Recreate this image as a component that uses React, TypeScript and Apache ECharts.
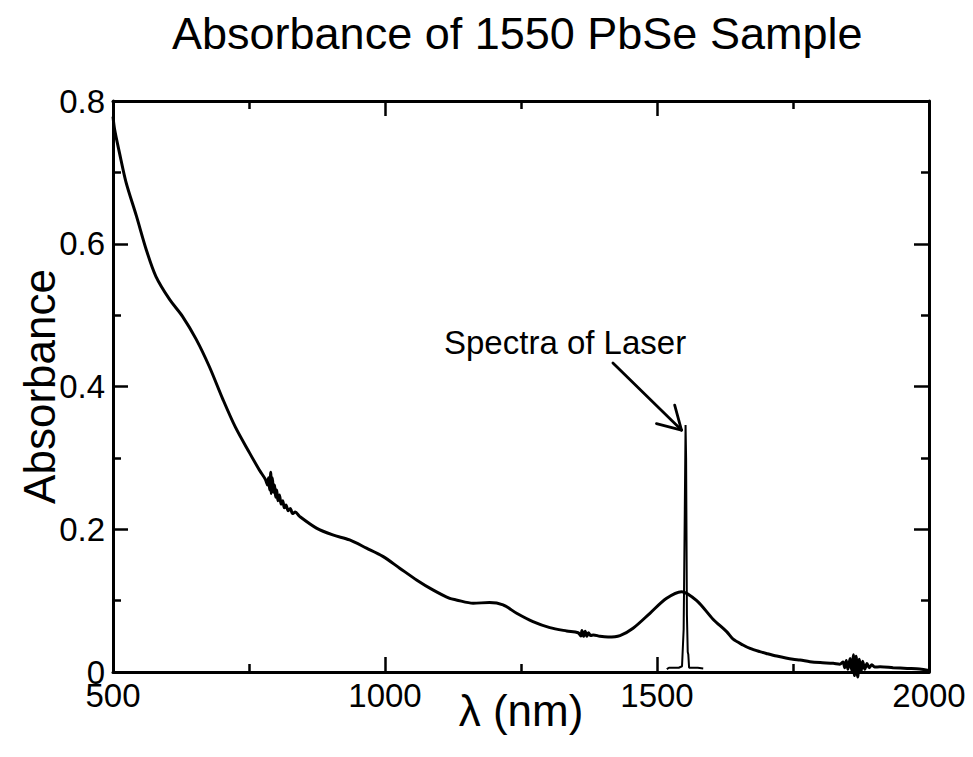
import React, { useEffect, useRef } from "react";
import * as echarts from "echarts";

const chartTitle = "Absorbance of 1550 PbSe Sample";
const xAxisName = "λ (nm)";
const yAxisName = "Absorbance";
const annotationText = "Spectra of Laser";

const absWavelength = [
  500, 503, 512, 524, 543, 561, 579, 604, 628, 653, 677, 702, 725, 751, 769,
  780, 784, 786, 788, 790, 791, 793, 795, 797, 799, 801, 803, 806, 809, 812,
  815, 818, 822, 826, 830, 835, 843, 874, 904, 935, 966, 996, 1027, 1058,
  1088, 1119, 1131, 1162, 1192, 1217, 1242, 1272, 1303, 1334, 1355, 1360,
  1362, 1365, 1368, 1371, 1374, 1378, 1383, 1395, 1410, 1432, 1456, 1487,
  1517, 1545, 1573, 1603, 1628, 1640, 1658, 1671, 1689, 1701, 1720, 1750,
  1763, 1781, 1800, 1824, 1836, 1842, 1845, 1848, 1851, 1855, 1858, 1861,
  1863, 1866, 1869, 1872, 1875, 1878, 1882, 1886, 1890, 1895, 1900, 1910,
  1934, 1960, 1983, 2000,
];
const absValue = [
  0.778, 0.76, 0.727, 0.686, 0.639, 0.592, 0.554, 0.522, 0.498, 0.466, 0.428,
  0.382, 0.343, 0.307, 0.283, 0.27, 0.262, 0.272, 0.255, 0.28, 0.25, 0.272,
  0.252, 0.262, 0.245, 0.255, 0.24, 0.248, 0.235, 0.24, 0.23, 0.234, 0.226,
  0.229, 0.222, 0.224, 0.218, 0.2016, 0.192, 0.185, 0.1735, 0.162, 0.1455,
  0.129, 0.115, 0.103, 0.101, 0.0964, 0.0973, 0.094, 0.0823, 0.0706, 0.0622,
  0.0575, 0.055, 0.0505, 0.058, 0.05, 0.057, 0.05, 0.055, 0.051, 0.052, 0.05,
  0.049, 0.051, 0.0613, 0.0823, 0.103, 0.1126, 0.1, 0.074, 0.0565, 0.046,
  0.0379, 0.033, 0.0285, 0.026, 0.0224, 0.0178, 0.0168, 0.0145, 0.0132,
  0.0122, 0.011, 0.014, 0.006, 0.016, 0.004, 0.019, 0.002, 0.024, -0.005,
  0.022, -0.007, 0.018, 0.0, 0.015, 0.004, 0.012, 0.006, 0.01, 0.007, 0.0072,
  0.006, 0.005, 0.0042, 0.002,
];

const laserWavelength = [
  1518, 1522, 1530, 1540, 1546, 1549, 1551, 1552.5, 1553.5, 1555, 1556.5,
  1557.5, 1559, 1565, 1575, 1585,
];
const laserValue = [
  0.004, 0.006, 0.006, 0.006, 0.008, 0.06, 0.22, 0.346, 0.3, 0.08, 0.028,
  0.025, 0.006, 0.006, 0.006, 0.005,
];

// arrow annotation (data coordinates): shaft and the two arms of its head
const arrowTip = [1545, 0.339];
const arrowTail = [1419, 0.433];
const arrowArmA = [1532.5, 0.374];
const arrowArmB = [1499, 0.348];
const annotationPos = [1331, 0.4615];

const FONT = "'Liberation Sans', Arial, Helvetica, sans-serif";

export default function App() {
  const ref = useRef<HTMLDivElement>(null);

  useEffect(() => {
    if (!ref.current) return;
    const chart = echarts.init(ref.current, null, { renderer: "svg" });

    const absData = absWavelength.map((x, i) => [x, absValue[i]]);
    const laserData = laserWavelength.map((x, i) => [x, laserValue[i]]);

    const axisLine = { show: true, onZero: false, lineStyle: { color: "#000", width: 3 } };
    const axisTick = { show: true, inside: true, length: 15, lineStyle: { color: "#000", width: 2.5 } };
    const minorTick = { show: true, splitNumber: 2, length: 8, lineStyle: { color: "#000", width: 2.5 } };

    chart.setOption({
      animation: false,
      backgroundColor: "#fff",
      textStyle: { fontFamily: FONT },
      title: {
        text: chartTitle,
        left: 172,
        top: 11,
        padding: 0,
        textStyle: { fontFamily: FONT, fontSize: 45, fontWeight: "normal", color: "#000" },
      },
      grid: { left: 113, right: 44, top: 101, bottom: 85, containLabel: false },
      xAxis: [
        {
          type: "value",
          position: "bottom",
          min: 500,
          max: 2000,
          interval: 500,
          name: xAxisName,
          nameLocation: "middle",
          nameGap: 16,
          nameMoveOverlap: false,
          nameTextStyle: { fontFamily: FONT, fontSize: 44, color: "#000" },
          axisLine,
          axisTick,
          minorTick,
          splitLine: { show: false },
          minorSplitLine: { show: false },
          axisLabel: {
            show: true,
            margin: 7,
            fontFamily: FONT,
            fontSize: 33,
            color: "#000",
            formatter: (v: number) => String(v),
          },
        },
        {
          type: "value",
          position: "top",
          min: 500,
          max: 2000,
          interval: 500,
          axisLine,
          axisTick,
          minorTick,
          splitLine: { show: false },
          minorSplitLine: { show: false },
          axisLabel: { show: false },
        },
      ],
      yAxis: [
        {
          type: "value",
          position: "left",
          min: 0,
          max: 0.8,
          interval: 0.2,
          name: yAxisName,
          nameLocation: "middle",
          nameGap: 52,
          nameRotate: 90,
          nameMoveOverlap: false,
          nameTextStyle: { fontFamily: FONT, fontSize: 44, color: "#000" },
          axisLine,
          axisTick,
          minorTick,
          splitLine: { show: false },
          minorSplitLine: { show: false },
          axisLabel: {
            show: true,
            margin: 8,
            fontFamily: FONT,
            fontSize: 33,
            color: "#000",
            formatter: (v: number) => (v === 0 ? "0" : v.toFixed(1)),
          },
        },
        {
          type: "value",
          position: "right",
          min: 0,
          max: 0.8,
          interval: 0.2,
          axisLine,
          axisTick,
          minorTick,
          splitLine: { show: false },
          minorSplitLine: { show: false },
          axisLabel: { show: false },
        },
      ],
      series: [
        {
          name: "Absorbance",
          type: "line",
          data: absData,
          xAxisIndex: 0,
          yAxisIndex: 0,
          showSymbol: false,
          symbol: "none",
          smooth: 0.3,
          clip: false,
          silent: true,
          lineStyle: { color: "#000", width: 3 },
          z: 3,
        },
        {
          name: "Laser",
          type: "line",
          data: laserData,
          xAxisIndex: 0,
          yAxisIndex: 0,
          showSymbol: false,
          symbol: "none",
          silent: true,
          lineStyle: { color: "#000", width: 2 },
          z: 4,
          markLine: {
            silent: true,
            symbol: ["none", "none"],
            label: { show: false },
            lineStyle: { color: "#000", width: 2.8, type: "solid", cap: "round" },
            emphasis: { disabled: true },
            data: [
              [{ coord: arrowTail }, { coord: arrowTip }],
              [{ coord: arrowArmA }, { coord: arrowTip }],
              [{ coord: arrowArmB }, { coord: arrowTip }],
            ],
          },
          markPoint: {
            silent: true,
            symbol: "circle",
            symbolSize: 0,
            itemStyle: { color: "transparent" },
            label: {
              show: true,
              position: "inside",
              formatter: annotationText,
              fontFamily: FONT,
              fontSize: 33,
              color: "#000",
            },
            data: [{ coord: annotationPos }],
          },
        },
      ],
    });

    return () => chart.dispose();
  }, []);

  return (
    <div
      ref={ref}
      style={{ position: "fixed", left: 0, top: 0, width: 973, height: 757, background: "#fff" }}
    />
  );
}
